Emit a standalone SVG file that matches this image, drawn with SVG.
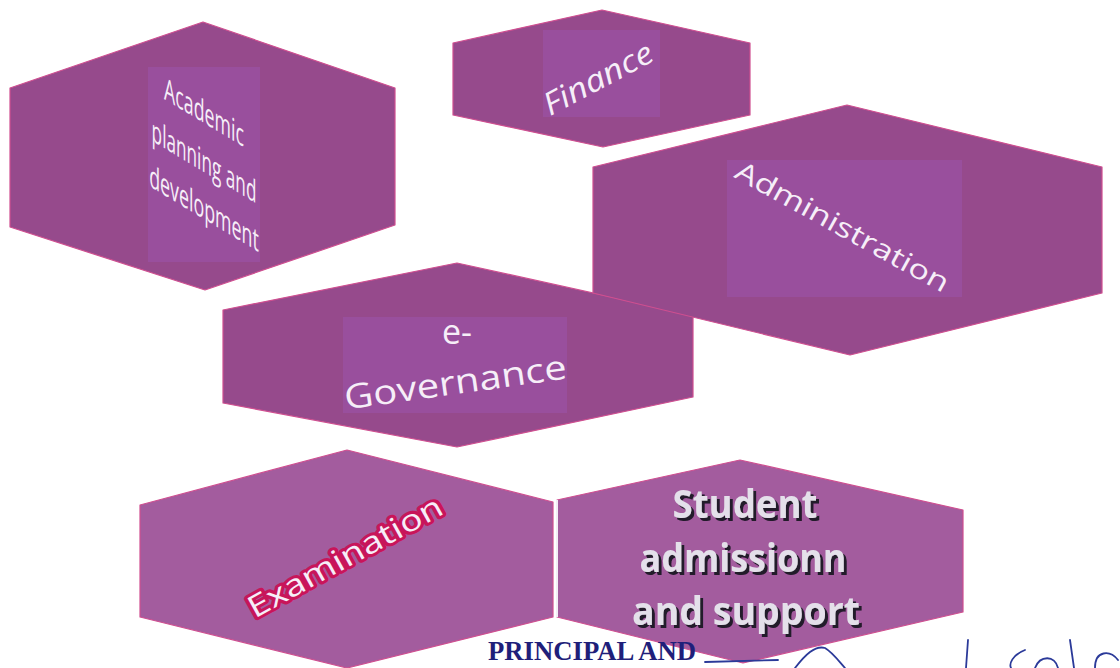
<svg xmlns="http://www.w3.org/2000/svg" width="1120" height="668" viewBox="0 0 1120 668">
<defs>
<style>
.hex{fill:#964a8c;stroke:#cf4f90;stroke-width:1.2;stroke-linejoin:round}
.hexL{fill:#a35c9e;stroke:#cf4f90;stroke-width:1.2;stroke-linejoin:round}
.inner{fill:#994f9d}
.lbl{font-family:"Open Sans","Noto Sans","Liberation Sans",sans-serif;fill:#f6eef8;text-anchor:middle}
.stu{font-family:"Liberation Sans Narrow","Open Sans","Liberation Sans",sans-serif;font-weight:700;font-size:39px;text-anchor:middle;fill:#e4e0ea}
.sig{fill:none;stroke:#2b3a99;stroke-width:1.8;stroke-linecap:round;stroke-linejoin:round}
</style>
<filter id="sh3d" x="-10%" y="-20%" width="130%" height="160%">
<feOffset in="SourceAlpha" dx="2.5" dy="3" result="o"/>
<feFlood flood-color="#231a2c"/>
<feComposite in2="o" operator="in" result="s"/>
<feMerge><feMergeNode in="s"/><feMergeNode in="SourceGraphic"/></feMerge>
</filter>
</defs>
<rect width="1120" height="668" fill="#ffffff"/>

<g id="academic">
<polygon class="hex" points="203,22 395,88 395,225 205,290 10,227 10,88"/>
<rect class="inner" x="148" y="67" width="112" height="195"/>
<g transform="translate(204,0) skewY(31) scale(0.62,1)">
<text class="lbl" x="0" y="123" font-size="31" textLength="129" lengthAdjust="spacingAndGlyphs">Academic</text>
<text class="lbl" x="0" y="172" font-size="31" textLength="169" lengthAdjust="spacingAndGlyphs">planning and</text>
<text class="lbl" x="0" y="219" font-size="31" textLength="177" lengthAdjust="spacingAndGlyphs">development</text>
</g>
</g>

<g id="finance">
<polygon class="hex" points="602,10 750,43 750,115 603,147 453,115 453,43"/>
<rect class="inner" x="543" y="30" width="117" height="87"/>
<text class="lbl" x="603" y="88" font-size="31" font-style="italic" textLength="120" lengthAdjust="spacingAndGlyphs" transform="rotate(-28 603 88)">Finance</text>
</g>

<g id="egovernance">
<polygon class="hex" points="457,263 693,315 693,397 457,447 223,403 223,310"/>
<rect class="inner" x="343" y="317" width="224" height="96"/>
<text class="lbl" x="457" y="344" font-size="34">e-</text>
<text class="lbl" x="457" y="394" font-size="34" textLength="224" lengthAdjust="spacingAndGlyphs" transform="rotate(-8 457 394)">Governance</text>
</g>

<g id="administration">
<polygon class="hex" points="847,105 1102,167 1102,293 850,355 593,293 593,167"/>
<rect class="inner" x="727" y="160" width="235" height="137"/>
<text class="lbl" x="838" y="235" font-size="27" textLength="240" lengthAdjust="spacingAndGlyphs" transform="rotate(29 838 235)">Administration</text>
</g>

<g id="examination">
<polygon class="hexL" points="347,450 553,502 553,617 347,668 140,617 140,505"/>
<text class="lbl" x="350" y="566" font-size="30" textLength="218" lengthAdjust="spacingAndGlyphs" transform="rotate(-29 350 566)" stroke="#c8155a" stroke-width="6" stroke-linejoin="round" paint-order="stroke">Examination</text>
</g>

<g id="student">
<polygon class="hexL" points="740,460 963,510 963,612 743,663 557,617 557,500"/>
<line x1="557" y1="500" x2="557" y2="617" stroke="#f4eef6" stroke-width="2"/>
<g class="stu" filter="url(#sh3d)">
<text x="745" y="518" textLength="145" lengthAdjust="spacingAndGlyphs">Student</text>
<text x="743" y="572" textLength="207" lengthAdjust="spacingAndGlyphs">admissionn</text>
<text x="746" y="625" textLength="228" lengthAdjust="spacingAndGlyphs">and support</text>
</g>
</g>

<g id="connectors"></g>

<g id="footer">
<text x="488" y="660" font-family="Liberation Serif,serif" font-weight="700" font-size="28" fill="#1f1f7a" textLength="208" lengthAdjust="spacingAndGlyphs">PRINCIPAL AND</text>
<path class="sig" d="M705,662 L778,660 M795,668 C805,655 815,645 825,648 C832,652 838,660 845,668 M968,640 L966,668 M1025,650 C1012,655 1009,664 1011,668 M1035,668 C1040,655 1055,655 1058,668 M1070,640 L1074,668 M1095,668 C1095,650 1110,650 1118,660"/>
</g>
</svg>
